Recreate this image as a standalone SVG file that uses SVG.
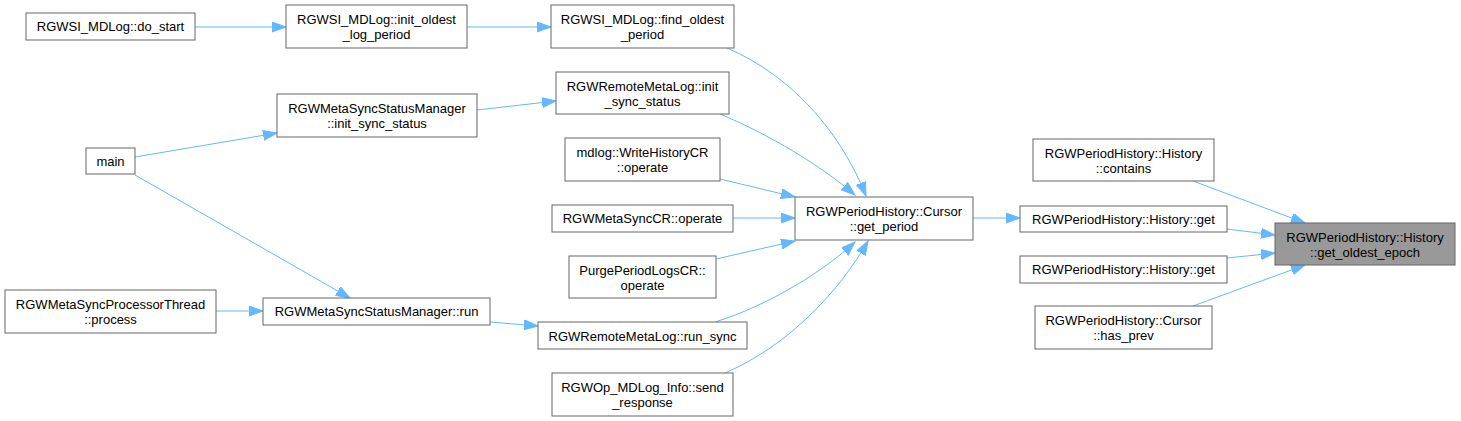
<svg xmlns="http://www.w3.org/2000/svg" width="1461" height="421" viewBox="0 0 1461 421">
<style>
.n rect{fill:#ffffff;stroke:#666666;stroke-width:1}
.n.h rect{fill:#999999}
.n text{font-family:"Liberation Sans",Arial,sans-serif;font-size:13px;fill:#000000;text-anchor:middle}
.e path{fill:none;stroke:#63b8ff;stroke-width:1;marker-end:url(#ah)}
</style>
<defs>
<marker id="ah" markerUnits="userSpaceOnUse" markerWidth="15" markerHeight="11" refX="14" refY="5" orient="auto" viewBox="0 0 15 11">
<path d="M0,0 L14,5 L0,10 z" fill="#63b8ff" stroke="#63b8ff" stroke-width="1"/>
</marker>
</defs>
<rect width="1461" height="421" fill="#ffffff"/>
<g id="edges" class="e">
<path d="M195,27 L286,27"/>
<path d="M467,27 L551,27"/>
<path d="M727,48 C790,75 840,130 866,196"/>
<path d="M720,114 C770,135 820,165 855,195"/>
<path d="M720,179 L795,197"/>
<path d="M733,218 L795,218"/>
<path d="M716,259 L795,241"/>
<path d="M715,322 C770,305 825,270 855,242"/>
<path d="M725,373 C790,345 840,290 868,241"/>
<path d="M973,218 L1020,218"/>
<path d="M135,157 L277,133"/>
<path d="M135,175 L350,298"/>
<path d="M477,110 L556,101"/>
<path d="M216,311 L263,311"/>
<path d="M490,322 L538,326"/>
<path d="M1193,181 L1305,223"/>
<path d="M1227,229 L1275,235"/>
<path d="M1227,258 L1275,253"/>
<path d="M1193,306 L1305,265"/>
</g>
<g id="n1" class="n"><rect x="26" y="13" width="169" height="27"/><text x="110.5" y="31">RGWSI_MDLog::do_start</text></g>
<g id="n2" class="n"><rect x="286" y="5" width="181" height="43"/><text x="376.5" y="23.5">RGWSI_MDLog::init_oldest</text><text x="376.5" y="38.5">_log_period</text></g>
<g id="n3" class="n"><rect x="277" y="94" width="200" height="43"/><text x="377" y="112.5">RGWMetaSyncStatusManager</text><text x="377" y="127.5">::init_sync_status</text></g>
<g id="n4" class="n"><rect x="551" y="5" width="183" height="43"/><text x="642.5" y="23.5">RGWSI_MDLog::find_oldest</text><text x="642.5" y="38.5">_period</text></g>
<g id="n5" class="n"><rect x="556" y="72" width="173" height="42"/><text x="642.5" y="90.5">RGWRemoteMetaLog::init</text><text x="642.5" y="105.5">_sync_status</text></g>
<g id="n6" class="n"><rect x="565" y="138" width="155" height="43"/><text x="642.5" y="156.5">mdlog::WriteHistoryCR</text><text x="642.5" y="171.5">::operate</text></g>
<g id="n7" class="n"><rect x="552" y="205" width="181" height="27"/><text x="642.5" y="223">RGWMetaSyncCR::operate</text></g>
<g id="n8" class="n"><rect x="795" y="197" width="178" height="43"/><text x="884" y="215.5">RGWPeriodHistory::Cursor</text><text x="884" y="230.5">::get_period</text></g>
<g id="n9" class="n"><rect x="569" y="256" width="147" height="42"/><text x="642.5" y="274.5">PurgePeriodLogsCR::</text><text x="642.5" y="289.5">operate</text></g>
<g id="n10" class="n"><rect x="86" y="148" width="49" height="26"/><text x="110.5" y="166">main</text></g>
<g id="n11" class="n"><rect x="5" y="290" width="211" height="43"/><text x="110.5" y="308.5">RGWMetaSyncProcessorThread</text><text x="110.5" y="323.5">::process</text></g>
<g id="n12" class="n"><rect x="263" y="298" width="227" height="27"/><text x="376.5" y="316">RGWMetaSyncStatusManager::run</text></g>
<g id="n13" class="n"><rect x="538" y="322" width="209" height="27"/><text x="642.5" y="340.5">RGWRemoteMetaLog::run_sync</text></g>
<g id="n14" class="n"><rect x="552" y="373" width="181" height="43"/><text x="642.5" y="391.5">RGWOp_MDLog_Info::send</text><text x="642.5" y="406.5">_response</text></g>
<g id="n15" class="n"><rect x="1033" y="139" width="181" height="42"/><text x="1123.5" y="157.5">RGWPeriodHistory::History</text><text x="1123.5" y="172.5">::contains</text></g>
<g id="n16" class="n"><rect x="1020" y="206" width="207" height="26"/><text x="1123.5" y="223.5">RGWPeriodHistory::History::get</text></g>
<g id="n17" class="n h"><rect x="1275" y="223" width="180" height="42"/><text x="1365" y="241.5">RGWPeriodHistory::History</text><text x="1365" y="256.5">::get_oldest_epoch</text></g>
<g id="n18" class="n"><rect x="1020" y="256" width="207" height="27"/><text x="1123.5" y="274">RGWPeriodHistory::History::get</text></g>
<g id="n19" class="n"><rect x="1035" y="306" width="177" height="43"/><text x="1123.5" y="324.5">RGWPeriodHistory::Cursor</text><text x="1123.5" y="339.5">::has_prev</text></g>
</svg>
